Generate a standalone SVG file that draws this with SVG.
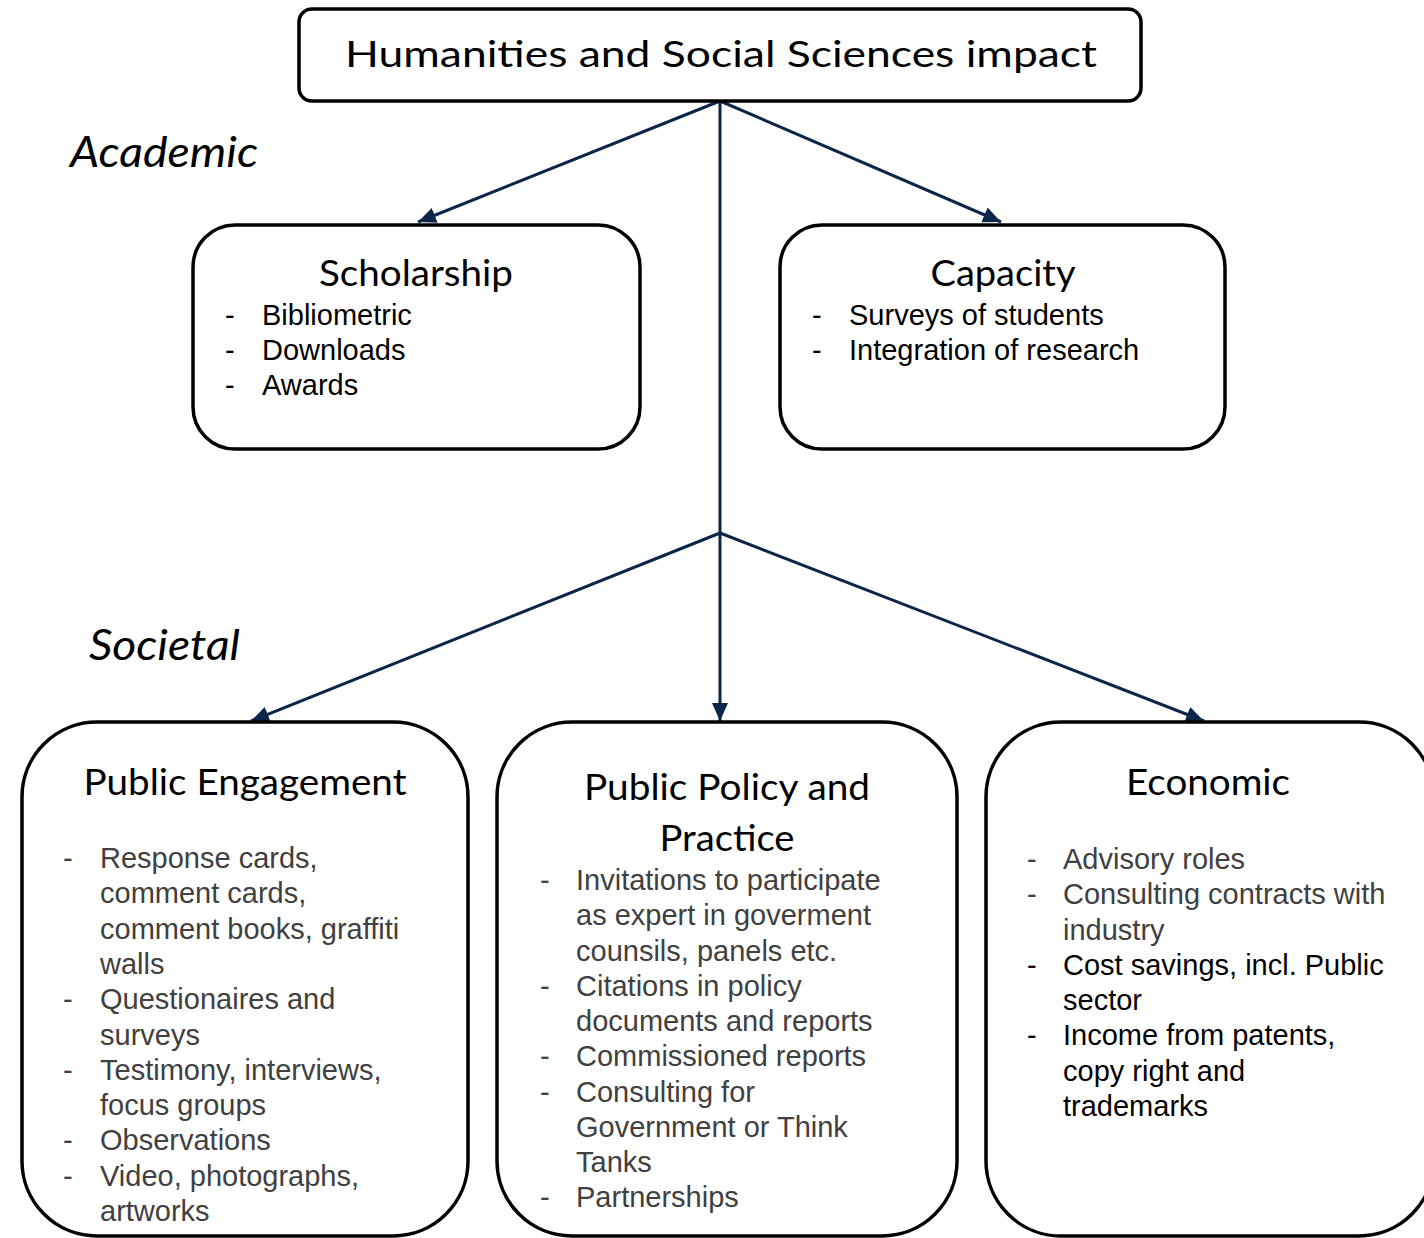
<svg xmlns="http://www.w3.org/2000/svg" width="1424" height="1238" viewBox="0 0 1424 1238">
<style>
.box{fill:#fff;stroke:#000;stroke-width:3.5}
.head{font-family:Lato,"Open Sans","Noto Sans",sans-serif;font-size:37px;fill:#000}
.cat{font-family:Lato,"Open Sans","Noto Sans",sans-serif;font-size:42px;font-style:italic;fill:#000}
.item{font-family:"Liberation Sans",Arial,sans-serif;font-size:29px;fill:#000}
.grey{fill:#404040}
.conn{stroke:#0B2648;stroke-width:3;fill:none}
</style>
<defs>
<marker id="ah" markerUnits="userSpaceOnUse" markerWidth="20" markerHeight="18" refX="18" refY="8" orient="auto">
<path d="M0,0 L18,8 L0,16 Z" fill="#0B2648"/>
</marker>
</defs>
<rect width="1424" height="1238" fill="#fff"/>
<g id="connectors">
<line class="conn" x1="720" y1="101" x2="418" y2="222" marker-end="url(#ah)"/>
<line class="conn" x1="720" y1="101" x2="1001" y2="222" marker-end="url(#ah)"/>
<line class="conn" x1="720" y1="101" x2="720" y2="721" marker-end="url(#ah)"/>
<line class="conn" x1="720" y1="533" x2="251" y2="721" marker-end="url(#ah)"/>
<line class="conn" x1="720" y1="533" x2="1204" y2="721" marker-end="url(#ah)"/>
</g>
<g id="root">
<rect class="box" x="299" y="9" width="842" height="92" rx="13"/>
<text class="head" x="721" y="67" text-anchor="middle" font-size="39" textLength="752" lengthAdjust="spacingAndGlyphs">Humanities and Social Sciences impact</text>
</g>
<g id="label-academic"><text class="cat" x="70" y="167" textLength="188" lengthAdjust="spacingAndGlyphs">Academic</text></g>
<g id="label-societal"><text class="cat" x="89" y="660" textLength="151" lengthAdjust="spacingAndGlyphs">Societal</text></g>
<g id="scholarship">
<rect class="box" x="193" y="225" width="447" height="224" rx="42"/>
<text class="head" x="416" y="286" text-anchor="middle" textLength="194" lengthAdjust="spacingAndGlyphs">Scholarship</text>
<text class="item" x="225" y="325">-</text><text class="item" x="262" y="325">Bibliometric</text>
<text class="item" x="225" y="360">-</text><text class="item" x="262" y="360">Downloads</text>
<text class="item" x="225" y="395">-</text><text class="item" x="262" y="395">Awards</text>
</g>
<g id="capacity">
<rect class="box" x="780" y="225" width="445" height="224" rx="42"/>
<text class="head" x="1003" y="286" text-anchor="middle" textLength="145" lengthAdjust="spacingAndGlyphs">Capacity</text>
<text class="item" x="812" y="325">-</text><text class="item" x="849" y="325">Surveys of students</text>
<text class="item" x="812" y="360">-</text><text class="item" x="849" y="360">Integration of research</text>
</g>
<g id="public-engagement">
<rect class="box" x="22" y="722" width="446" height="514" rx="75"/>
<text class="head" x="245" y="795" text-anchor="middle" textLength="323" lengthAdjust="spacingAndGlyphs">Public Engagement</text>
<text class="item grey" x="63" y="868">-</text><text class="item grey" x="100" y="868">Response cards,</text>
<text class="item grey" x="100" y="903">comment cards,</text>
<text class="item grey" x="100" y="939">comment books, graffiti</text>
<text class="item grey" x="100" y="974">walls</text>
<text class="item grey" x="63" y="1009">-</text><text class="item grey" x="100" y="1009">Questionaires and</text>
<text class="item grey" x="100" y="1045">surveys</text>
<text class="item grey" x="63" y="1080">-</text><text class="item grey" x="100" y="1080">Testimony, interviews,</text>
<text class="item grey" x="100" y="1115">focus groups</text>
<text class="item grey" x="63" y="1150">-</text><text class="item grey" x="100" y="1150">Observations</text>
<text class="item grey" x="63" y="1186">-</text><text class="item grey" x="100" y="1186">Video, photographs,</text>
<text class="item grey" x="100" y="1221">artworks</text>
</g>
<g id="public-policy">
<rect class="box" x="497" y="722" width="460" height="514" rx="75"/>
<text class="head" x="727" y="800" text-anchor="middle" textLength="286" lengthAdjust="spacingAndGlyphs">Public Policy and</text>
<text class="head" x="727" y="851" text-anchor="middle" textLength="135" lengthAdjust="spacingAndGlyphs">Practice</text>
<text class="item grey" x="540" y="890">-</text><text class="item grey" x="576" y="890">Invitations  to participate</text>
<text class="item grey" x="576" y="925">as expert in goverment</text>
<text class="item grey" x="576" y="961">counsils, panels etc.</text>
<text class="item grey" x="540" y="996">-</text><text class="item grey" x="576" y="996">Citations in policy</text>
<text class="item grey" x="576" y="1031">documents and reports</text>
<text class="item grey" x="540" y="1066">-</text><text class="item grey" x="576" y="1066">Commissioned reports</text>
<text class="item grey" x="540" y="1102">-</text><text class="item grey" x="576" y="1102">Consulting for</text>
<text class="item grey" x="576" y="1137">Government or Think</text>
<text class="item grey" x="576" y="1172">Tanks</text>
<text class="item grey" x="540" y="1207">-</text><text class="item grey" x="576" y="1207">Partnerships</text>
</g>
<g id="economic">
<rect class="box" x="986" y="722" width="448" height="514" rx="75"/>
<text class="head" x="1208" y="795" text-anchor="middle" textLength="164" lengthAdjust="spacingAndGlyphs">Economic</text>
<text class="item grey" x="1027" y="869">-</text><text class="item grey" x="1063" y="869">Advisory roles</text>
<text class="item grey" x="1027" y="904">-</text><text class="item grey" x="1063" y="904">Consulting contracts with</text>
<text class="item grey" x="1063" y="940">industry</text>
<text class="item" x="1027" y="975">-</text><text class="item" x="1063" y="975">Cost savings, incl. Public</text>
<text class="item" x="1063" y="1010">sector</text>
<text class="item" x="1027" y="1045">-</text><text class="item" x="1063" y="1045">Income from patents,</text>
<text class="item" x="1063" y="1081">copy right and</text>
<text class="item" x="1063" y="1116">trademarks</text>
</g>
</svg>
